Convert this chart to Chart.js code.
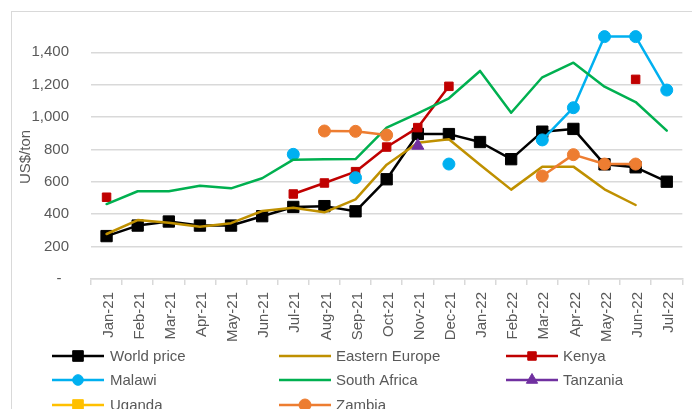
<!DOCTYPE html>
<html><head><meta charset="utf-8">
<script src="https://cdn.jsdelivr.net/npm/chart.js@4.4.1/dist/chart.umd.min.js"></script>
<style>
html,body{margin:0;padding:0;background:#fff;overflow:hidden;width:692px;height:409px;}
#frame{position:absolute;left:11px;top:11px;width:720px;height:440px;border:1px solid #d9d9d9;}
#wrap{position:absolute;left:0;top:0;width:692px;height:409px;}
</style></head><body>
<div id="frame"></div>
<div id="wrap"><canvas id="c" width="692" height="409"></canvas></div>
<script>
const months = ['Jan-21','Feb-21','Mar-21','Apr-21','May-21','Jun-21','Jul-21','Aug-21','Sep-21','Oct-21','Nov-21','Dec-21','Jan-22','Feb-22','Mar-22','Apr-22','May-22','Jun-22','Jul-22'];
const worldPrice    = [265, 330, 355, 330, 330, 388, 445, 450, 418, 616, 896, 895, 846, 740, 910, 927, 708, 690, 601];
const easternEurope = [278, 364, 348, 323, 345, 420, 440, 412, 492, 706, 842, 863, 706, 552, 694, 694, 554, 457, null];
const kenya         = [505, null, null, null, null, null, 525, 593, 663, 815, 935, 1190, null, null, null, null, null, 1233, null];
const malawi        = [null, null, null, null, null, null, 770, null, 626, null, null, 710, null, null, 859, 1058, 1497, 1497, 1167];
const southAfrica   = [463, 542, 542, 576, 560, 622, 737, 740, 741, 935, 1023, 1116, 1285, 1027, 1246, 1336, 1188, 1093, 916];
const tanzania      = [null, null, null, null, null, null, null, null, null, null, 823, null, null, null, null, null, null, null, null];
const uganda        = [null, null, null, null, null, null, null, null, null, null, null, null, null, null, null, null, null, null, null];
const zambia        = [null, null, null, null, null, null, null, 914, 912, 889, null, null, null, null, 636, 768, 710, 710, null];
const yTickValues   = [0, 200, 400, 600, 800, 1000, 1200, 1400];
const seriesNames   = ['World price','Eastern Europe','Kenya','Malawi','South Africa','Tanzania','Uganda','Zambia'];

const FONT = "'Liberation Sans', Arial, sans-serif";
const TXT = '#595959';
const GRID = '#d9d9d9';

function ds(label, data, color, style, radius, legendRadius) {
  return {
    label, data,
    borderColor: color, backgroundColor: color,
    borderWidth: 2.5, borderJoinStyle: 'round', borderCapStyle: 'round',
    pointStyle: style || false, pointRadius: radius, pointHoverRadius: radius,
    pointBackgroundColor: color, pointBorderColor: color, pointBorderWidth: 1,
    legendRadius: legendRadius,
    tension: 0, spanGaps: false, clip: false, fill: false
  };
}

const datasets = [
  ds(seriesNames[0], worldPrice, '#000000', 'rect', 8, 7.5),
  ds(seriesNames[1], easternEurope, '#BF9000', false, 0, 0),
  ds(seriesNames[2], kenya, '#C00000', 'rect', 6, 6),
  ds(seriesNames[3], malawi, '#00B0F0', 'circle', 6, 5.3),
  ds(seriesNames[4], southAfrica, '#00B050', false, 0, 0),
  ds(seriesNames[5], tanzania, '#7030A0', 'triangle', 7, 6.5),
  ds(seriesNames[6], uganda, '#FFC000', 'rect', 8, 7.5),
  ds(seriesNames[7], zambia, '#ED7D31', 'circle', 6, 6)
];
datasets.forEach((d, i) => { d.order = datasets.length - i; });

function drawMarker(ctx, style, r, x, y, color) {
  ctx.save();
  ctx.fillStyle = color; ctx.strokeStyle = color; ctx.lineWidth = 1;
  ctx.beginPath();
  if (style === 'rect') {
    const s = r * Math.SQRT1_2;
    ctx.rect(x - s, y - s, 2 * s, 2 * s);
  } else if (style === 'circle') {
    ctx.arc(x, y, r, 0, Math.PI * 2);
  } else if (style === 'triangle') {
    const h = r * 1.5;
    ctx.moveTo(x, y - r);
    ctx.lineTo(x - r * 0.866 * 1.0, y + r * 0.5);
    ctx.lineTo(x + r * 0.866 * 1.0, y + r * 0.5);
    ctx.closePath();
  }
  ctx.fill(); ctx.stroke();
  ctx.restore();
}

const legendPlugin = {
  id: 'gridLegend',
  afterDraw(chart) {
    const ctx = chart.ctx;
    const colLine = [52, 279, 506];
    const colText = [110, 336, 563];
    const rowY = [356, 380, 405];
    chart.data.datasets.forEach((d, i) => {
      const col = i % 3, row = Math.floor(i / 3);
      const x0 = colLine[col], x1 = x0 + 52, y = rowY[row];
      ctx.save();
      ctx.strokeStyle = d.borderColor; ctx.lineWidth = 2.5; ctx.lineCap = 'butt';
      ctx.beginPath(); ctx.moveTo(x0, y); ctx.lineTo(x1, y); ctx.stroke();
      ctx.restore();
      if (d.pointStyle) drawMarker(ctx, d.pointStyle, d.legendRadius, (x0 + x1) / 2, y, d.borderColor);
      ctx.save();
      ctx.fillStyle = TXT; ctx.font = '15px ' + FONT;
      ctx.textBaseline = 'middle'; ctx.textAlign = 'left';
      ctx.fillText(d.label, colText[col], y + 1);
      ctx.restore();
    });
  }
};

new Chart(document.getElementById('c'), {
  type: 'line',
  data: { labels: months, datasets },
  options: {
    responsive: false, animation: false, devicePixelRatio: 1,
    layout: { padding: { left: 0, right: 7, top: 35, bottom: 0 } },
    plugins: { legend: { display: false }, tooltip: { enabled: false } },
    events: [],
    scales: {
      x: {
        type: 'category', offset: true,
        grid: { display: true, drawOnChartArea: false, offset: true, tickLength: 6, color: GRID, lineWidth: 1.5 },
        border: { display: true, color: GRID, width: 1.5 },
        ticks: { autoSkip: false, maxRotation: 90, minRotation: 90, padding: 7, labelOffset: 2,
                 color: TXT, font: { family: FONT, size: 15 } },
        afterFit(s) { s.height = 130; }
      },
      y: {
        min: 0, max: 1507,
        afterBuildTicks(s) { s.ticks = yTickValues.map(v => ({ value: v })); },
        grid: { color: GRID, lineWidth: 1.5, drawTicks: false },
        border: { display: false },
        ticks: { padding: 22, color: TXT, font: { family: FONT, size: 15 },
                 callback: v => v === 0 ? '-\u2002' : Number(v).toLocaleString('en-US') },
        title: { display: true, text: 'US$/ton', color: TXT, font: { family: FONT, size: 15 }, padding: { top: 17, bottom: 0 } },
        afterFit(s) { s.width = 91; }
      }
    }
  },
  plugins: [legendPlugin]
});
</script>
</body></html>
